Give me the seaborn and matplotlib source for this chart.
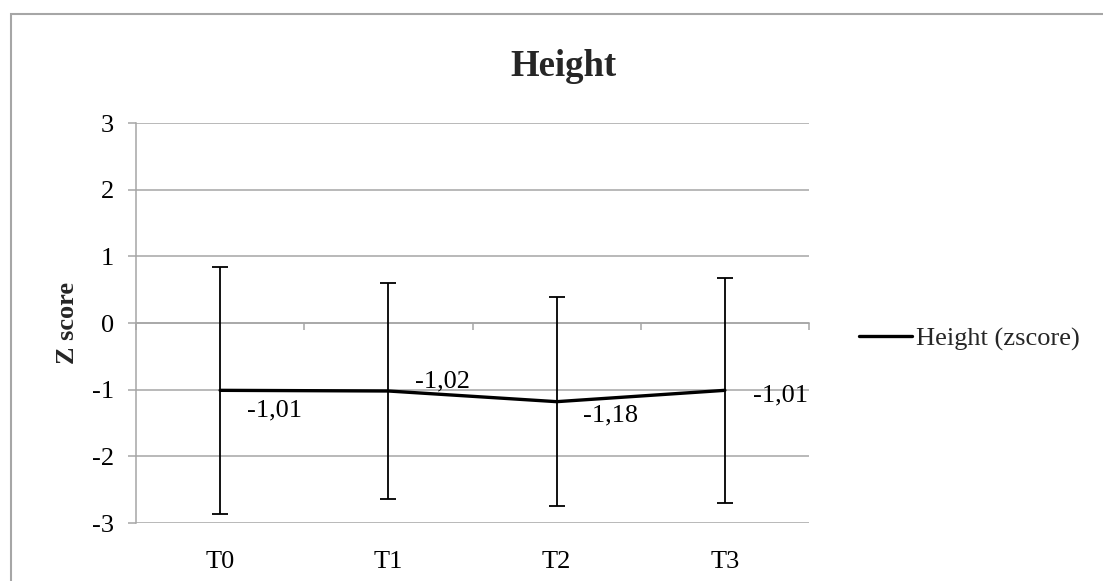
import matplotlib
matplotlib.use("Agg")
import matplotlib.pyplot as plt
import pandas as pd
import seaborn as sns
from matplotlib.lines import Line2D
from matplotlib.patches import Rectangle

# Mean height z-score per time point with its standard deviation
timepoints = ["T0", "T1", "T2", "T3"]
height_z = [-1.01, -1.02, -1.18, -1.01]
height_sd = [1.85, 1.62, 1.57, 1.69]
series_name = "Height (zscore)"
y_ticks = [-3, -2, -1, 0, 1, 2, 3]

sns.set_theme(style="white")
plt.rcParams["font.family"] = ["Liberation Serif", "DejaVu Serif"]

GRID = "#a6a6a6"
FS = 19

fig = plt.figure(figsize=(11.03, 5.81), dpi=100)
ax = fig.add_axes([136 / 1103, 1 - 523 / 581, (809 - 136) / 1103, (523 - 123) / 581])

df = pd.DataFrame({"time": timepoints, "z": height_z, "sd": height_sd})
sns.lineplot(data=df, x="time", y="z", ax=ax, color="black", linewidth=2.4,
             sort=False, legend=False, zorder=4)
ax.errorbar(df["time"], df["z"], yerr=df["sd"], fmt="none", ecolor="black",
            elinewidth=1.3, capsize=5.8, capthick=1.3, zorder=3)

# value labels next to each point, decimal comma
label_offsets = [(27, -20), (27, 10), (26, -14), (28, -5)]
for i, (v, off) in enumerate(zip(height_z, label_offsets)):
    txt = f"{v:.2f}".replace(".", ",")
    ax.annotate(txt, (i, v), xytext=off, textcoords="offset pixels",
                ha="left", va="center", fontsize=FS, color="black", zorder=5)

ax.set_xlim(-0.5, len(timepoints) - 0.5)
ax.set_ylim(-3, 3)
ax.set_yticks(y_ticks)
ax.set_yticklabels([str(t) for t in y_ticks])
ax.yaxis.grid(True, color=GRID, linewidth=1.1)
ax.xaxis.grid(False)
ax.set_xlabel("")
ax.set_ylabel("")

# category axis crosses at zero; category labels stay at the bottom
ax.set_xticks(range(len(timepoints)))
ax.set_xticklabels(timepoints)
ax.set_xticks([i - 0.5 for i in range(len(timepoints) + 1)], minor=True)
for side in ("right", "bottom"):
    ax.spines[side].set_visible(False)
ax.spines["top"].set_position(("data", 0))
ax.spines["top"].set_color(GRID)
ax.spines["top"].set_linewidth(1.1)
ax.spines["left"].set_color(GRID)
ax.spines["left"].set_linewidth(1.1)

ax.tick_params(axis="y", which="major", left=True, length=6, width=1.1,
               color=GRID, pad=10, labelsize=FS, labelcolor="black")
ax.tick_params(axis="x", which="major", bottom=True, top=False, length=0,
               pad=20, labelsize=FS, labelcolor="black")
ax.tick_params(axis="x", which="minor", bottom=False, top=True,
               direction="in", length=5, width=1.1, color=GRID)

fig.legend(handles=[Line2D([], [], color="black", linewidth=2.4)],
           labels=[series_name], loc="center left",
           bbox_to_anchor=(859 / 1103, 1 - 339 / 581), frameon=False,
           borderpad=0, borderaxespad=0, handlelength=2.0,
           handletextpad=0.15, fontsize=FS)

fig.text(563 / 1103, 1 - 76 / 581, "Height", ha="center", va="baseline",
         fontsize=26.5, fontweight="bold")
fig.text(68 / 1103, 1 - 323 / 581, "Z score", rotation=90, ha="center",
         va="center", fontsize=19, fontweight="bold")

# chart frame
fig.add_artist(Rectangle((11 / 1103, -0.5), 2, 1.5 - 14.5 / 581,
                         transform=fig.transFigure, fill=False,
                         edgecolor=GRID, linewidth=1.5))

fig.savefig("out.png", dpi=100)
